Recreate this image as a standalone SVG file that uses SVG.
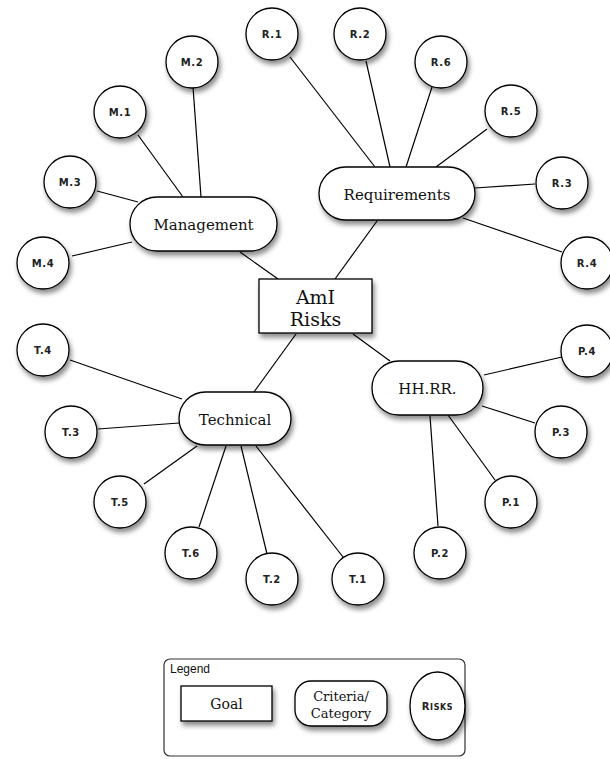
<svg xmlns="http://www.w3.org/2000/svg" width="610" height="759" viewBox="0 0 610 759">
<defs>
<filter id="sh" x="-30%" y="-30%" width="170%" height="170%">
<feDropShadow dx="2" dy="4" stdDeviation="2.5" flood-color="#000" flood-opacity="0.45"/>
</filter>
</defs>
<style>
.n{fill:#fff;stroke:#000;stroke-width:1.3;filter:url(#sh)}
.c line{stroke:#000;stroke-width:1.2}
.r{font-family:"DejaVu Sans",sans-serif;font-weight:bold;font-size:10px;letter-spacing:0.6px;text-anchor:middle;fill:#222}
.k{font-family:"DejaVu Serif","Liberation Serif",serif;font-size:15px;text-anchor:middle;fill:#111}
.g{font-family:"DejaVu Serif","Liberation Serif",serif;font-size:19px;text-anchor:middle;fill:#111}
</style>
<rect width="610" height="759" fill="#fff"/>
<g class="c" id="connectors">
<line x1="240" y1="252" x2="278" y2="279"/>
<line x1="193" y1="87" x2="201" y2="197"/>
<line x1="138" y1="135" x2="183" y2="197"/>
<line x1="97" y1="191" x2="138" y2="202"/>
<line x1="72" y1="256" x2="132" y2="242"/>
<line x1="290" y1="57" x2="375" y2="167"/>
<line x1="366" y1="61" x2="390" y2="167"/>
<line x1="432" y1="87" x2="406" y2="167"/>
<line x1="487" y1="129" x2="436" y2="167"/>
<line x1="535" y1="184" x2="475" y2="188"/>
<line x1="562" y1="252" x2="463" y2="218"/>
<line x1="377" y1="221" x2="335" y2="279"/>
<line x1="296" y1="334" x2="254" y2="392"/>
<line x1="70" y1="360" x2="182" y2="399"/>
<line x1="98" y1="429" x2="179" y2="423"/>
<line x1="144" y1="484" x2="197" y2="446"/>
<line x1="199" y1="527" x2="226" y2="446"/>
<line x1="267" y1="554" x2="241" y2="446"/>
<line x1="256" y1="446" x2="343" y2="557"/>
<line x1="353" y1="334" x2="390" y2="361"/>
<line x1="484" y1="375" x2="562" y2="357"/>
<line x1="482" y1="406" x2="535" y2="423"/>
<line x1="448" y1="415" x2="495" y2="480"/>
<line x1="430" y1="416" x2="438" y2="526"/>
</g>
<g id="goal"><rect class="n" x="259" y="279" width="113" height="54"/><text class="g" x="315.5" y="304">AmI</text><text class="g" x="315.5" y="326">Risks</text></g>
<g id="management"><rect class="n" x="130" y="197" width="147" height="54" rx="27"/><text class="k" x="203.5" y="230">Management</text></g>
<g id="requirements"><rect class="n" x="319" y="167" width="156" height="53" rx="26.5"/><text class="k" x="397" y="200">Requirements</text></g>
<g id="technical"><rect class="n" x="179" y="392" width="112" height="53" rx="26.5"/><text class="k" x="235" y="425">Technical</text></g>
<g id="hhrr"><rect class="n" x="372" y="361" width="111" height="54" rx="27"/><text class="k" x="427.5" y="394">HH.RR.</text></g>
<g id="M2"><circle class="n" cx="192" cy="62" r="26"/><text class="r" x="192" y="66">M.2</text></g>
<g id="M1"><circle class="n" cx="120" cy="112" r="26"/><text class="r" x="120" y="116">M.1</text></g>
<g id="M3"><circle class="n" cx="70" cy="182" r="26"/><text class="r" x="70" y="186">M.3</text></g>
<g id="M4"><circle class="n" cx="43" cy="263" r="26"/><text class="r" x="43" y="267">M.4</text></g>
<g id="R1"><circle class="n" cx="272" cy="34" r="26"/><text class="r" x="272" y="38">R.1</text></g>
<g id="R2"><circle class="n" cx="360" cy="34" r="26"/><text class="r" x="360" y="38">R.2</text></g>
<g id="R6"><circle class="n" cx="441" cy="62" r="26"/><text class="r" x="441" y="66">R.6</text></g>
<g id="R5"><circle class="n" cx="511" cy="111" r="26"/><text class="r" x="511" y="115">R.5</text></g>
<g id="R3"><circle class="n" cx="562" cy="183" r="26"/><text class="r" x="562" y="187">R.3</text></g>
<g id="R4"><circle class="n" cx="587" cy="263" r="26"/><text class="r" x="587" y="267">R.4</text></g>
<g id="T4"><circle class="n" cx="43" cy="350" r="26"/><text class="r" x="43" y="354">T.4</text></g>
<g id="T3"><circle class="n" cx="71" cy="432" r="26"/><text class="r" x="71" y="436">T.3</text></g>
<g id="T5"><circle class="n" cx="120" cy="502" r="26"/><text class="r" x="120" y="506">T.5</text></g>
<g id="T6"><circle class="n" cx="191" cy="553" r="26"/><text class="r" x="191" y="557">T.6</text></g>
<g id="T2"><circle class="n" cx="272" cy="579" r="26"/><text class="r" x="272" y="583">T.2</text></g>
<g id="T1"><circle class="n" cx="358" cy="579" r="26"/><text class="r" x="358" y="583">T.1</text></g>
<g id="P4"><circle class="n" cx="587" cy="351" r="26"/><text class="r" x="587" y="355">P.4</text></g>
<g id="P3"><circle class="n" cx="561" cy="432" r="26"/><text class="r" x="561" y="436">P.3</text></g>
<g id="P1"><circle class="n" cx="511" cy="502" r="26"/><text class="r" x="511" y="506">P.1</text></g>
<g id="P2"><circle class="n" cx="440" cy="553" r="26"/><text class="r" x="440" y="557">P.2</text></g>
<g id="legend">
<rect x="164" y="659" width="301" height="97" rx="6" fill="#fff" stroke="#333" stroke-width="1.2"/>
<text x="170" y="673" font-family="Liberation Sans,Arial,sans-serif" font-size="12" fill="#111">Legend</text>
<rect class="n" x="181" y="686" width="91" height="35"/>
<text class="k" x="226.5" y="709" style="font-size:14px">Goal</text>
<rect class="n" x="295" y="681" width="92" height="45" rx="16"/>
<text class="k" x="341" y="701" style="font-size:13px">Criteria/</text>
<text class="k" x="341" y="718" style="font-size:13px">Category</text>
<ellipse class="n" cx="437.5" cy="706" rx="27.5" ry="34"/>
<text class="r" x="437.5" y="710" style="font-size:10px">R<tspan style="font-size:8px">ISKS</tspan></text>
</g>
</svg>
